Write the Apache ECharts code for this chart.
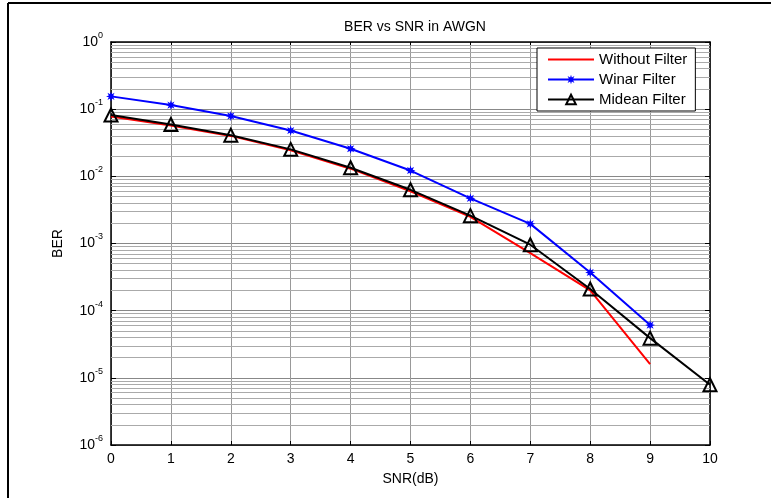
<!DOCTYPE html>
<html>
<head>
<meta charset="utf-8">
<script src="https://cdn.jsdelivr.net/npm/echarts@6/dist/echarts.min.js"></script>
<style>
  html, body { margin: 0; padding: 0; background: #fff; }
  #chart { width: 771px; height: 498px; }
</style>
</head>
<body>
<div id="chart"></div>
<script>
// SNR values (dB)
const snr = [0, 1, 2, 3, 4, 5, 6, 7, 8, 9, 10];
// BER
const withoutFilter = [0.078, 0.057, 0.040, 0.0245, 0.0130, 0.0060, 0.0025, 0.00072, 0.00020, 0.000016];
const winarFilter = [0.155, 0.115, 0.079, 0.048, 0.0258, 0.0122, 0.0047, 0.00196, 0.00037, 0.000061];
const mideanFilter = [0.082, 0.059, 0.041, 0.0252, 0.0134, 0.0063, 0.0026, 0.00096, 0.00021, 0.000039, 0.0000079];
// minor log grid (2..9 in each decade)
const decades = [-6, -5, -4, -3, -2, -1];
const mantissas = [2, 3, 4, 5, 6, 7, 8, 9];

const pairs = (ys) => ys.map((y, i) => [snr[i], y]);
const minorLines = [];
decades.forEach(d => mantissas.forEach(m => {
  const v = m * Math.pow(10, d);
  minorLines.push({ coords: [[snr[0], v], [snr[snr.length - 1], v]] });
}));

const FONT = 'Liberation Sans, Arial, sans-serif';
const starPath = 'path://M5,0 L2.2,0.9 L3.54,3.54 L0.9,2.2 L0,5 L-0.9,2.2 L-3.54,3.54 L-2.2,0.9 L-5,0 L-2.2,-0.9 L-3.54,-3.54 L-0.9,-2.2 L0,-5 L0.9,-2.2 L3.54,-3.54 L2.2,-0.9 Z';

const chart = echarts.init(document.getElementById('chart'));

const logAxisBase = {
  type: 'log',
  logBase: 10,
  min: 1e-6,
  max: 1,
  splitNumber: 6,
  axisLine: { show: true, onZero: false, lineStyle: { color: '#000', width: 1.5 } },
  axisTick: { show: true, inside: true, length: 5, lineStyle: { color: '#000' } }
};

const option = {
  animation: false,
  backgroundColor: '#fff',
  textStyle: { fontFamily: FONT },
  title: {
    text: 'BER vs SNR in AWGN',
    left: 410,
    top: 15,
    textAlign: 'center',
    textStyle: { fontFamily: FONT, fontSize: 14, fontWeight: 'normal', color: '#000' }
  },
  grid: { left: 111, right: 61, top: 42, bottom: 53 },
  legend: {
    orient: 'vertical',
    left: 537,
    top: 48,
    z: 50,
    padding: [4, 8, 4, 10],
    itemGap: 5,
    itemWidth: 46,
    itemHeight: 12,
    backgroundColor: '#fff',
    borderColor: '#000',
    borderWidth: 1,
    borderRadius: 0,
    textStyle: { fontFamily: FONT, fontSize: 15, color: '#000' },
    data: [
      { name: 'Without Filter', itemStyle: { opacity: 0 } },
      'Winar Filter',
      'Midean Filter'
    ]
  },
  xAxis: [
    {
      type: 'value',
      min: 0,
      max: 10,
      interval: 1,
      name: 'SNR(dB)',
      nameLocation: 'middle',
      nameGap: 27,
      nameTextStyle: { fontFamily: FONT, fontSize: 14, color: '#000' },
      axisLine: { show: true, onZero: false, lineStyle: { color: '#000', width: 1.5 } },
      axisTick: { show: true, inside: true, length: 4, lineStyle: { color: '#000' } },
      axisLabel: { fontFamily: FONT, fontSize: 14, color: '#000', margin: 7 },
      splitLine: { show: true, lineStyle: { color: '#999', width: 1 } }
    },
    {
      type: 'value',
      position: 'top',
      min: 0,
      max: 10,
      interval: 1,
      axisLine: { show: true, onZero: false, lineStyle: { color: '#000', width: 1.5 } },
      axisTick: { show: true, inside: true, length: 4, lineStyle: { color: '#000' } },
      axisLabel: { show: false },
      splitLine: { show: false }
    }
  ],
  yAxis: [
    Object.assign({}, logAxisBase, {
      name: 'BER',
      nameLocation: 'middle',
      nameGap: 46,
      nameRotate: 90,
      nameTextStyle: { fontFamily: FONT, fontSize: 14, color: '#000' },
      axisLabel: {
        margin: 8,
        formatter: function (v) {
          const e = Math.round(Math.log10(v));
          return '{b|10}{s|' + e + '}';
        },
        rich: {
          b: { fontFamily: FONT, fontSize: 14, color: '#000' },
          s: { fontFamily: FONT, fontSize: 9, color: '#000', padding: [0, 0, 13, 0] }
        }
      },
      splitLine: { show: true, lineStyle: { color: '#888', width: 1 } }
    }),
    Object.assign({}, logAxisBase, {
      position: 'right',
      axisLabel: { show: false },
      splitLine: { show: false }
    })
  ],
  graphic: [
    { type: 'line', shape: { x1: 8, y1: 3, x2: 8, y2: 498 }, style: { stroke: '#000', lineWidth: 2 } },
    { type: 'line', shape: { x1: 8, y1: 3, x2: 771, y2: 3 }, style: { stroke: '#000', lineWidth: 2 } }
  ],
  series: [
    {
      name: 'minor grid',
      type: 'lines',
      coordinateSystem: 'cartesian2d',
      silent: true,
      z: 1,
      lineStyle: { color: '#aaa', width: 1, opacity: 1 },
      data: minorLines
    },
    {
      name: 'Without Filter',
      type: 'line',
      data: pairs(withoutFilter),
      showSymbol: false,
      symbol: 'none',
      lineStyle: { color: '#ff0000', width: 2 },
      itemStyle: { color: '#ff0000' },
      z: 3
    },
    {
      name: 'Winar Filter',
      type: 'line',
      data: pairs(winarFilter),
      symbol: starPath,
      symbolSize: 10,
      lineStyle: { color: '#0000ff', width: 2 },
      itemStyle: { color: '#0000ff' },
      z: 4
    },
    {
      name: 'Midean Filter',
      type: 'line',
      data: pairs(mideanFilter),
      symbol: 'triangle',
      symbolSize: 13,
      lineStyle: { color: '#000', width: 2 },
      itemStyle: { color: 'rgba(255,255,255,0)', borderColor: '#000', borderWidth: 2 },
      z: 5
    }
  ]
};

chart.setOption(option);
</script>
</body>
</html>
